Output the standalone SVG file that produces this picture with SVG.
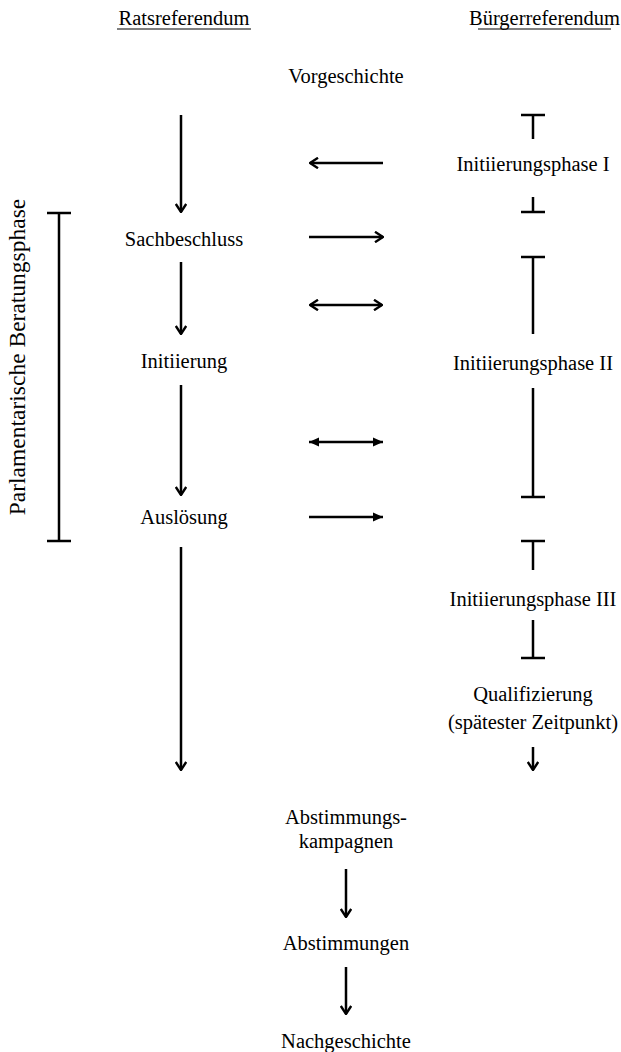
<svg xmlns="http://www.w3.org/2000/svg" width="621" height="1052" viewBox="0 0 621 1052">
<defs>
<marker id="open" viewBox="0 0 10 12" refX="9" refY="6" markerWidth="10" markerHeight="12" markerUnits="userSpaceOnUse" orient="auto-start-reverse">
<path d="M1,0.8 L9,6 L1,11.2" fill="none" stroke="#000" stroke-width="2.4"/>
</marker>
<marker id="fill" viewBox="0 0 10 10" refX="10" refY="5" markerWidth="10" markerHeight="10" markerUnits="userSpaceOnUse" orient="auto-start-reverse">
<path d="M0,0.5 L10,5 L0,9.5 Z" fill="#000"/>
</marker>
</defs>
<style>
text{font-family:"Liberation Serif","Times New Roman",serif;font-size:20.5px;fill:#000;text-anchor:middle}
line{stroke:#000;stroke-width:2.5}
.o{marker-end:url(#open)}
.ob{marker-start:url(#open);marker-end:url(#open)}
.f{marker-end:url(#fill)}
.fb{marker-start:url(#fill);marker-end:url(#fill)}
.u{stroke-width:1.2}
.rot{font-size:23.5px}
</style>
<g id="headers">
<text x="184" y="25">Ratsreferendum</text>
<line class="u" x1="117" y1="29" x2="251" y2="29"/>
<text x="544.5" y="25">Bürgerreferendum</text>
<line class="u" x1="478" y1="29" x2="611" y2="29"/>
</g>
<g id="n-vorgeschichte"><text x="346" y="83">Vorgeschichte</text></g>
<g id="n-sachbeschluss"><text x="184" y="246">Sachbeschluss</text></g>
<g id="n-initiierung"><text x="184" y="368">Initiierung</text></g>
<g id="n-ausloesung"><text x="184" y="524">Auslösung</text></g>
<g id="n-phase1"><text x="533" y="171">Initiierungsphase I</text></g>
<g id="n-phase2"><text x="533" y="370">Initiierungsphase II</text></g>
<g id="n-phase3"><text x="533" y="606">Initiierungsphase III</text></g>
<g id="n-qualifizierung"><text x="533" y="701">Qualifizierung</text><text x="533" y="729">(spätester Zeitpunkt)</text></g>
<g id="n-kampagnen"><text x="346" y="824">Abstimmungs-</text><text x="346" y="848">kampagnen</text></g>
<g id="n-abstimmungen"><text x="346" y="950">Abstimmungen</text></g>
<g id="n-nachgeschichte"><text x="346" y="1048">Nachgeschichte</text></g>
<g id="n-beratungsphase">
<text class="rot" transform="translate(25,357) rotate(-90)" x="0" y="0">Parlamentarische Beratungsphase</text>
<line x1="59" y1="213" x2="59" y2="541"/>
<line x1="47" y1="213" x2="71" y2="213"/>
<line x1="47" y1="541" x2="71" y2="541"/>
</g>
<g id="connectors">
<line class="o" x1="181" y1="115" x2="181" y2="212"/>
<line class="o" x1="181" y1="262" x2="181" y2="334"/>
<line class="o" x1="181" y1="385" x2="181" y2="495"/>
<line class="o" x1="181" y1="547" x2="181" y2="770"/>
<line class="o" x1="383" y1="163" x2="310" y2="163"/>
<line class="o" x1="309" y1="237" x2="383" y2="237"/>
<line class="ob" x1="310" y1="305" x2="382" y2="305"/>
<line class="fb" x1="309" y1="442" x2="383" y2="442"/>
<line class="f" x1="309" y1="517" x2="383" y2="517"/>
<line x1="533" y1="115" x2="533" y2="139"/>
<line x1="521" y1="115" x2="545" y2="115"/>
<line x1="533" y1="197" x2="533" y2="212"/>
<line x1="521" y1="212" x2="545" y2="212"/>
<line x1="533" y1="257" x2="533" y2="334"/>
<line x1="521" y1="257" x2="545" y2="257"/>
<line x1="533" y1="388" x2="533" y2="497"/>
<line x1="521" y1="497" x2="545" y2="497"/>
<line x1="533" y1="541" x2="533" y2="570"/>
<line x1="521" y1="541" x2="545" y2="541"/>
<line x1="533" y1="620" x2="533" y2="658"/>
<line x1="521" y1="658" x2="545" y2="658"/>
<line class="o" x1="533" y1="747" x2="533" y2="770"/>
<line class="o" x1="346" y1="869" x2="346" y2="917"/>
<line class="o" x1="346" y1="967" x2="346" y2="1014"/>
</g>
</svg>
